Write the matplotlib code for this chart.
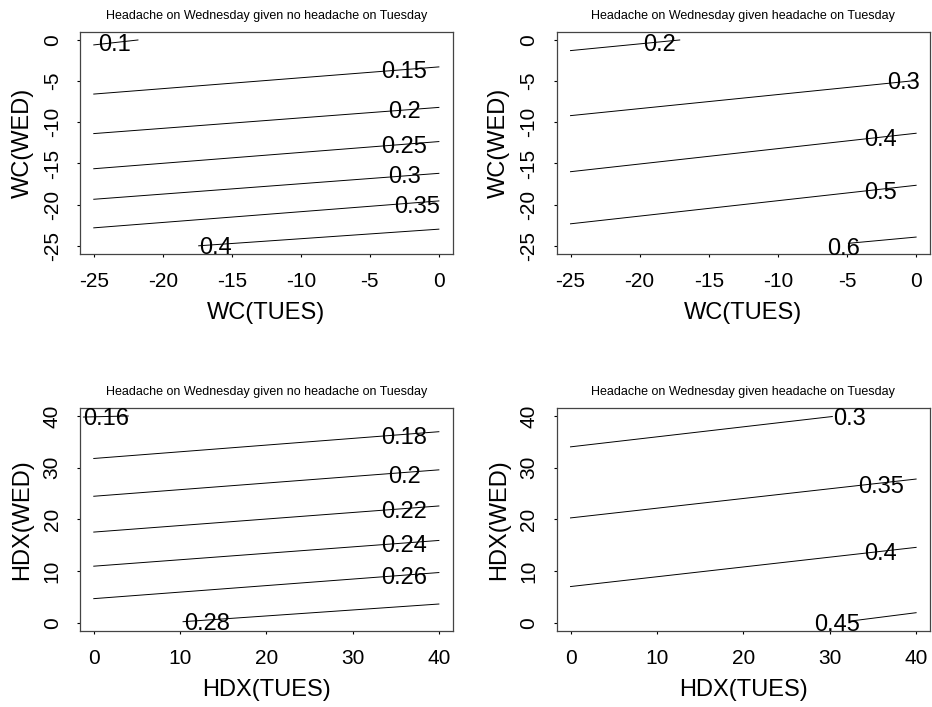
import matplotlib
matplotlib.use("Agg")
import matplotlib.pyplot as plt

plt.rcParams['font.family'] = ['Liberation Sans', 'DejaVu Sans']
plt.rcParams['axes.unicode_minus'] = False

TITLE_NO = "Headache on Wednesday given no headache on Tuesday"
TITLE_YES = "Headache on Wednesday given headache on Tuesday"

# contour lines: level, start/end of each line, label spot
# panel 1: WC, no headache on Tuesday
levels1 = [0.1, 0.15, 0.2, 0.25, 0.3, 0.35, 0.4]
x_start1 = [-25, -25, -25, -25, -25, -25, -17.4]
x_end1 = [-21.8, 0, 0, 0, 0, 0, 0]
y_start1 = [-0.6, -6.57, -11.37, -15.64, -19.35, -22.82, -25.0]
y_end1 = [0.0, -3.27, -8.19, -12.34, -16.2, -19.55, -22.98]
lab_x1 = [-23.5, -2.5, -2.5, -2.5, -2.5, -1.55, -16.2]
lab_y1 = [-0.3, -3.6, -8.45, -12.68, -16.37, -20.0, -25.0]

# panel 2: WC, headache on Tuesday
levels2 = [0.2, 0.3, 0.4, 0.5, 0.6]
x_start2 = [-25, -25, -25, -25, -4.9]
x_end2 = [-17.1, 0, 0, 0, 0]
y_start2 = [-1.29, -9.19, -16.0, -22.33, -24.7]
y_end2 = [0.0, -4.92, -11.33, -17.65, -23.94]
lab_x2 = [-18.55, -0.93, -2.56, -2.56, -5.27]
lab_y2 = [-0.3, -4.94, -11.83, -18.24, -25.13]

# panel 3: HDX, no headache on Tuesday
levels3 = [0.16, 0.18, 0.2, 0.22, 0.24, 0.26, 0.28]
x_start3 = [-1.2, 0, 0, 0, 0, 0, 10.35]
x_end3 = [4.0, 40, 40, 40, 40, 40, 40]
y_start3 = [39.8, 31.78, 24.47, 17.54, 10.94, 4.66, 0.2]
y_end3 = [40.0, 36.96, 29.58, 22.59, 15.92, 9.71, 3.62]
lab_x3 = [1.41, 35.98, 36.02, 35.98, 35.98, 35.98, 13.15]
lab_y3 = [39.84, 36.28, 28.77, 21.97, 15.31, 9.09, 0.26]

# panel 4: HDX, headache on Tuesday
levels4 = [0.3, 0.35, 0.4, 0.45]
x_start4 = [0, 0, 0, 32.3]
x_end4 = [30.3, 40, 40, 40]
y_start4 = [34.03, 20.28, 7.0, 0.3]
y_end4 = [39.9, 27.8, 14.58, 1.94]
lab_x4 = [32.34, 35.95, 35.9, 30.86]
lab_y4 = [39.96, 26.77, 13.71, -0.03]

wc_ticks = [-25, -20, -15, -10, -5, 0]
hdx_ticks = [0, 10, 20, 30, 40]

fig = plt.figure(figsize=(9.32, 7.07), dpi=100)

panels = [
    ([0.0858, 0.6407, 0.3999, 0.3144], TITLE_NO, "WC(TUES)", "WC(WED)", wc_ticks, (-26, 1),
     levels1, x_start1, x_end1, y_start1, y_end1, lab_x1, lab_y1),
    ([0.5973, 0.6407, 0.4005, 0.3144], TITLE_YES, "WC(TUES)", "WC(WED)", wc_ticks, (-26, 1),
     levels2, x_start2, x_end2, y_start2, y_end2, lab_x2, lab_y2),
    ([0.0858, 0.1075, 0.3999, 0.3158], TITLE_NO, "HDX(TUES)", "HDX(WED)", hdx_ticks, (-1.6, 41.6),
     levels3, x_start3, x_end3, y_start3, y_end3, lab_x3, lab_y3),
    ([0.5973, 0.1075, 0.4005, 0.3158], TITLE_YES, "HDX(TUES)", "HDX(WED)", hdx_ticks, (-1.6, 41.6),
     levels4, x_start4, x_end4, y_start4, y_end4, lab_x4, lab_y4),
]

for rect, title, xlab, ylab, ticks, lims, levels, xs, xe, ys, ye, lx, ly in panels:
    ax = fig.add_axes(rect)
    for lev, a, b, c, d, tx, ty in zip(levels, xs, xe, ys, ye, lx, ly):
        ax.plot([a, b], [c, d], color='black', linewidth=0.7)
        ax.text(tx, ty, f"{lev:g}", ha='center', va='center_baseline', fontsize=17)

    ax.set_xlim(*lims)
    ax.set_ylim(*lims)
    ax.set_xticks(ticks)
    ax.set_yticks(ticks)
    ax.tick_params(direction='out', length=2.2, width=0.8, labelsize=15, pad=11)
    for lab in ax.get_yticklabels():
        lab.set_rotation(90)
        lab.set_va('center')
    for sp in ax.spines.values():
        sp.set_color('#444444')
        sp.set_linewidth(0.9)

    ax.set_title(title, fontsize=9, pad=9)
    ax.set_xlabel(xlab, fontsize=17, va='center')
    ax.set_ylabel(ylab, fontsize=17, va='center')
    ax.xaxis.set_label_coords(0.5, -0.265)
    ax.yaxis.set_label_coords(-0.154, 0.5)

plt.savefig("out.png", dpi=100)
plt.close()
